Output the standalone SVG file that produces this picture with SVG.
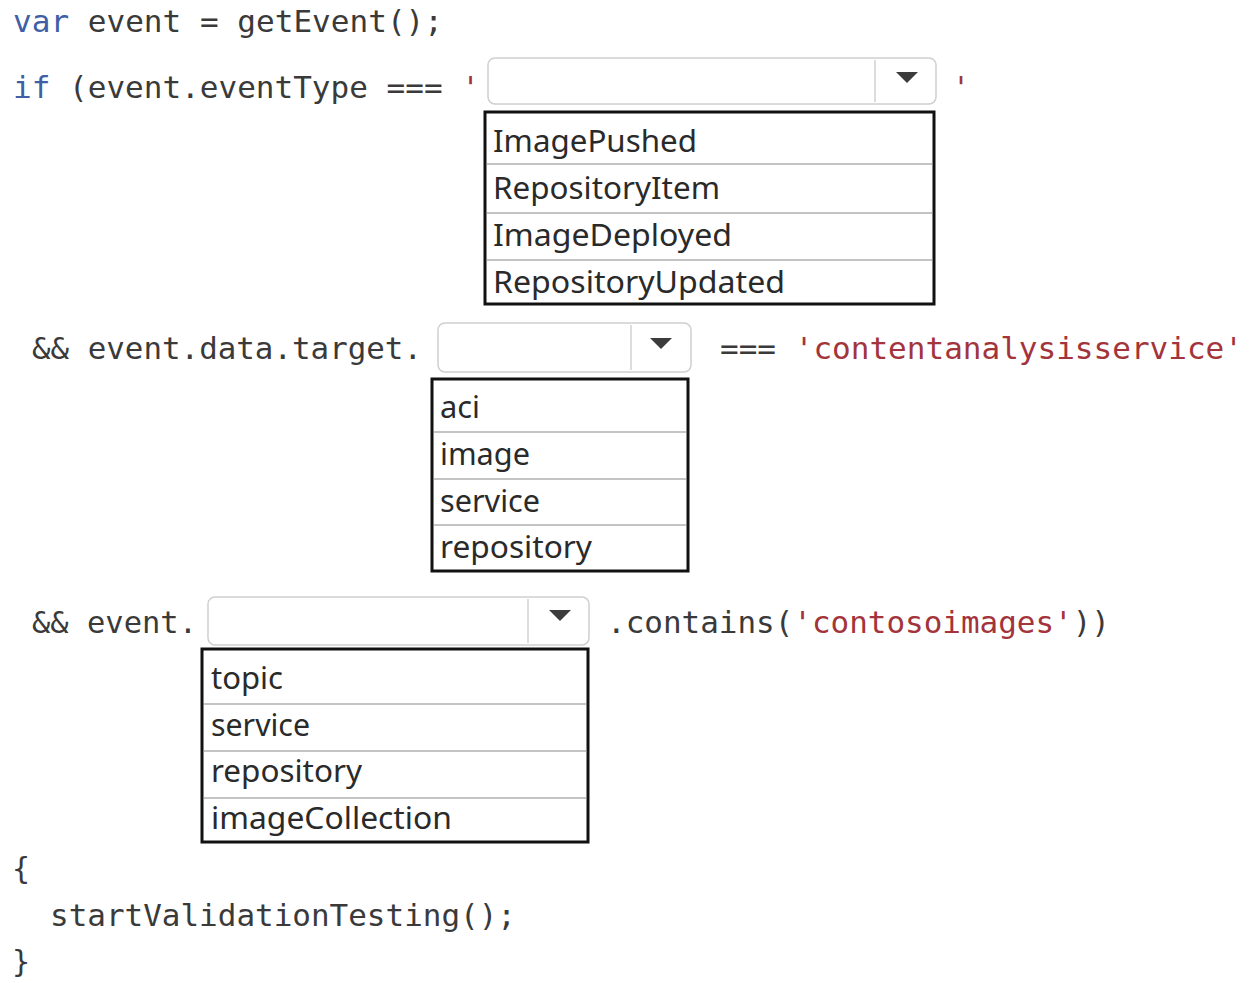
<svg xmlns="http://www.w3.org/2000/svg" width="1253" height="983" viewBox="0 0 1253 983">
<style>
.code{font-family:"DejaVu Sans Mono","Liberation Mono",monospace;font-size:30px;fill:#3a3a3a}
.kw{fill:#3f5fa6}
.str{fill:#a3343c}
.opt{font-family:"Noto Sans","Open Sans","Liberation Sans",sans-serif;font-size:30px;fill:#2a2a2a}
.box{fill:#ffffff;stroke:#cfcfcf;stroke-width:1.5}
.sep{stroke:#d0d0d0;stroke-width:1.5}
.arrow{fill:#3c3c3c}
.list{fill:#ffffff;stroke:#111111;stroke-width:3}
.div{stroke:#8a8a8a;stroke-width:1.2}
</style>
<rect width="1253" height="983" fill="#ffffff"/>

<g id="line1">
<text class="code" x="13" y="32" textLength="430" lengthAdjust="spacingAndGlyphs"><tspan class="kw">var</tspan> event = getEvent();</text>
</g>

<g id="line2">
<text class="code" x="13" y="98" textLength="467" lengthAdjust="spacingAndGlyphs"><tspan class="kw">if</tspan> (event.eventType === <tspan class="str">'</tspan></text>
<text class="code str" x="952" y="98">'</text>
</g>

<g id="dropdown1">
<rect class="box" x="488" y="58" width="448" height="46" rx="7"/>
<line class="sep" x1="875" y1="60" x2="875" y2="102"/>
<polygon class="arrow" points="896,72 918,72 907,83"/>
</g>

<g id="list1">
<rect class="list" x="485" y="112" width="449" height="192"/>
<line class="div" x1="486" y1="164" x2="933" y2="164"/>
<line class="div" x1="486" y1="213" x2="933" y2="213"/>
<line class="div" x1="486" y1="260" x2="933" y2="260"/>
<text class="opt" x="493" y="152" textLength="204" lengthAdjust="spacingAndGlyphs">ImagePushed</text>
<text class="opt" x="493" y="199" textLength="227" lengthAdjust="spacingAndGlyphs">RepositoryItem</text>
<text class="opt" x="493" y="246" textLength="239" lengthAdjust="spacingAndGlyphs">ImageDeployed</text>
<text class="opt" x="493" y="293" textLength="292" lengthAdjust="spacingAndGlyphs">RepositoryUpdated</text>
</g>

<g id="line3">
<text class="code" x="32" y="359" textLength="390" lengthAdjust="spacingAndGlyphs">&amp;&amp; event.data.target.</text>
<text class="code" x="720" y="359" textLength="523" lengthAdjust="spacingAndGlyphs">=== <tspan class="str">'contentanalysisservice'</tspan></text>
</g>

<g id="dropdown2">
<rect class="box" x="438" y="323" width="253" height="49" rx="7"/>
<line class="sep" x1="631" y1="325" x2="631" y2="370"/>
<polygon class="arrow" points="650,338 672,338 661,349"/>
</g>

<g id="list2">
<rect class="list" x="432" y="379" width="256" height="192"/>
<line class="div" x1="433" y1="432" x2="687" y2="432"/>
<line class="div" x1="433" y1="479" x2="687" y2="479"/>
<line class="div" x1="433" y1="525" x2="687" y2="525"/>
<text class="opt" x="440" y="418" textLength="40" lengthAdjust="spacingAndGlyphs">aci</text>
<text class="opt" x="440" y="465" textLength="90" lengthAdjust="spacingAndGlyphs">image</text>
<text class="opt" x="440" y="512" textLength="100" lengthAdjust="spacingAndGlyphs">service</text>
<text class="opt" x="440" y="558" textLength="152" lengthAdjust="spacingAndGlyphs">repository</text>
</g>

<g id="line4">
<text class="code" x="32" y="633" textLength="165" lengthAdjust="spacingAndGlyphs">&amp;&amp; event.</text>
<text class="code" x="607" y="633" textLength="503" lengthAdjust="spacingAndGlyphs">.contains(<tspan class="str">'contosoimages'</tspan>))</text>
</g>

<g id="dropdown3">
<rect class="box" x="208" y="597" width="381" height="48" rx="7"/>
<line class="sep" x1="528" y1="599" x2="528" y2="643"/>
<polygon class="arrow" points="549,610 571,610 560,621"/>
</g>

<g id="list3">
<rect class="list" x="202" y="649" width="386" height="193"/>
<line class="div" x1="203" y1="704" x2="587" y2="704"/>
<line class="div" x1="203" y1="751" x2="587" y2="751"/>
<line class="div" x1="203" y1="798" x2="587" y2="798"/>
<text class="opt" x="211" y="689" textLength="72" lengthAdjust="spacingAndGlyphs">topic</text>
<text class="opt" x="211" y="736" textLength="99" lengthAdjust="spacingAndGlyphs">service</text>
<text class="opt" x="211" y="782" textLength="151" lengthAdjust="spacingAndGlyphs">repository</text>
<text class="opt" x="211" y="829" textLength="241" lengthAdjust="spacingAndGlyphs">imageCollection</text>
</g>

<g id="body">
<text class="code" x="12" y="879">{</text>
<text class="code" x="50" y="926" textLength="466" lengthAdjust="spacingAndGlyphs">startValidationTesting();</text>
<text class="code" x="12" y="972">}</text>
</g>
</svg>
